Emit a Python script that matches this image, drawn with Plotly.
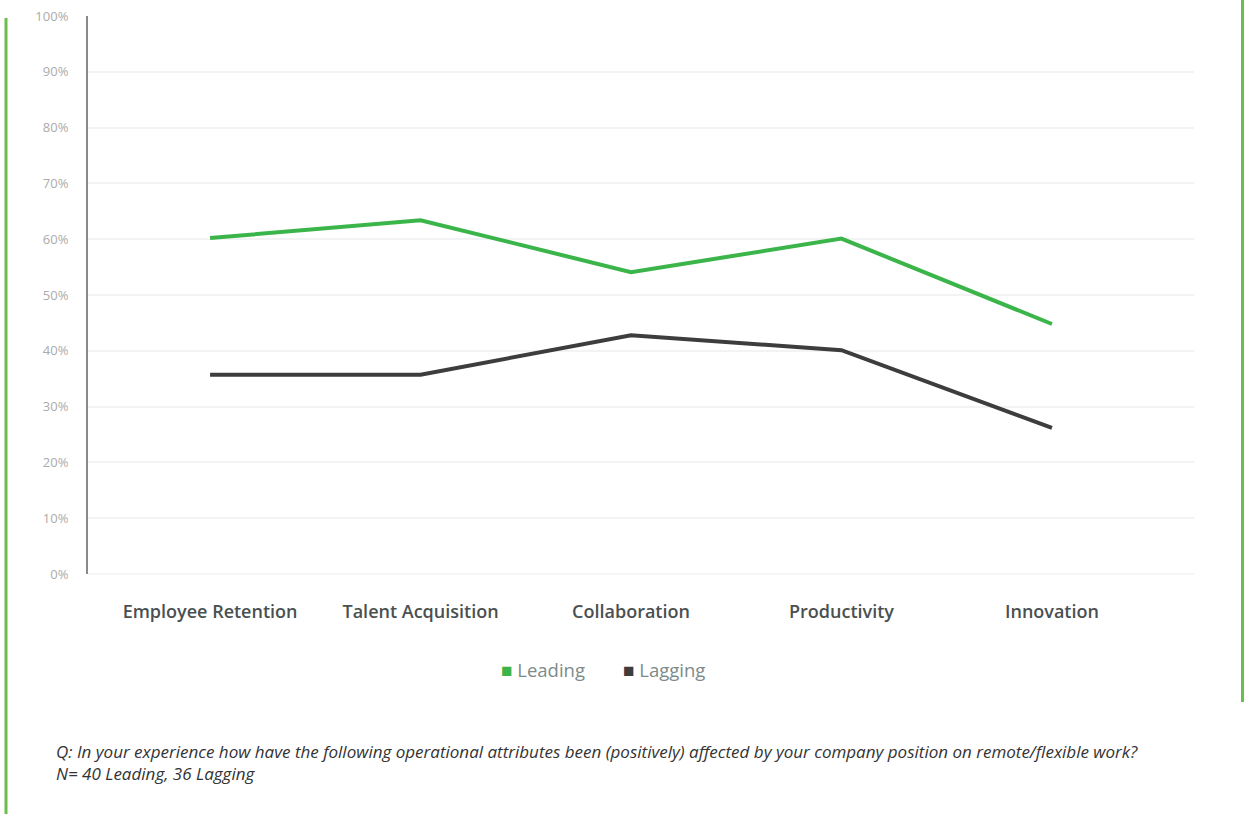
import plotly.graph_objects as go

categories = ["Employee Retention", "Talent Acquisition", "Collaboration", "Productivity", "Innovation"]
leading = [60.2, 63.4, 54.1, 60.1, 44.8]
lagging = [35.7, 35.7, 42.8, 40.1, 26.2]
series_names = ["Leading", "Lagging"]
series_colors = ["#3BB54A", "#3D3D3D"]
y_ticks = [0, 10, 20, 30, 40, 50, 60, 70, 80, 90, 100]
y_tick_labels = [f"{v}%" for v in y_ticks]
caption_lines = [
    "Q: In your experience how have the following operational attributes been (positively) affected by your company position on remote/flexible work?",
    "N= 40 Leading, 36 Lagging",
]

W, H = 1244, 814
L, R, T, B = 88, 50, 16, 240
pw, ph = W - L - R, H - T - B

def px(x):
    return (x - L) / pw

def py(y):
    return (H - B - y) / ph

FONT = "'Open Sans', Lato, sans-serif"

fig = go.Figure()
for name, vals, col in zip(series_names, [leading, lagging], series_colors):
    fig.add_trace(go.Scatter(x=categories, y=vals, mode="lines", name=name,
                             line=dict(color=col, width=4), showlegend=False,
                             hoverinfo="x+y"))

fig.update_layout(
    width=W, height=H,
    margin=dict(l=L, r=R, t=T, b=B, autoexpand=False),
    paper_bgcolor="white", plot_bgcolor="white",
    font=dict(family=FONT),
    xaxis=dict(
        type="category", range=[-0.58, 4.675], showgrid=False, zeroline=False,
        showline=False, ticks="", ticklabelstandoff=25, automargin=False,
        tickfont=dict(size=18, color="#4A5050", family=FONT, weight=600),
    ),
    yaxis=dict(
        range=[0, 100], tickvals=y_ticks, ticktext=y_tick_labels,
        showgrid=True, gridcolor="#F3F3F3", gridwidth=1.5, automargin=False,
        zeroline=False, showline=True, linecolor="#8A8A8A", linewidth=2,
        tickfont=dict(size=13, color="#ABABAB", family=FONT),
        ticklabelstandoff=15,
    ),
    showlegend=False,
)

# bottom axis baseline (light)
fig.add_shape(type="line", xref="paper", yref="paper", x0=0, x1=1, y0=0, y1=0,
              line=dict(color="#F3F3F3", width=1.5))

# decorative green side bars
fig.add_shape(type="line", xref="paper", yref="paper", x0=px(6), x1=px(6), y0=py(18), y1=py(814),
              line=dict(color="#6ABF4B", width=3))
fig.add_shape(type="line", xref="paper", yref="paper", x0=px(1242.5), x1=px(1242.5), y0=py(0), y1=py(702),
              line=dict(color="#6ABF4B", width=3))

# legend (square swatch + name)
legend_x = [499, 621]
for name, col, lx in zip(series_names, series_colors, legend_x):
    fig.add_annotation(xref="paper", yref="paper", x=px(lx), y=py(670), xanchor="left", yanchor="middle",
                       text=f"<span style='color:{col};font-size:19px'>■</span> {name}", showarrow=False,
                       font=dict(size=18.5, color="#7C8A8A", family=FONT))

fig.add_annotation(xref="paper", yref="paper", x=px(54), y=py(762), xanchor="left", yanchor="middle",
                   text="<i>" + "<br>".join(caption_lines) + "</i>", showarrow=False, align="left",
                   font=dict(size=17, color="#333333", family=FONT))

fig.write_html("out.html")
